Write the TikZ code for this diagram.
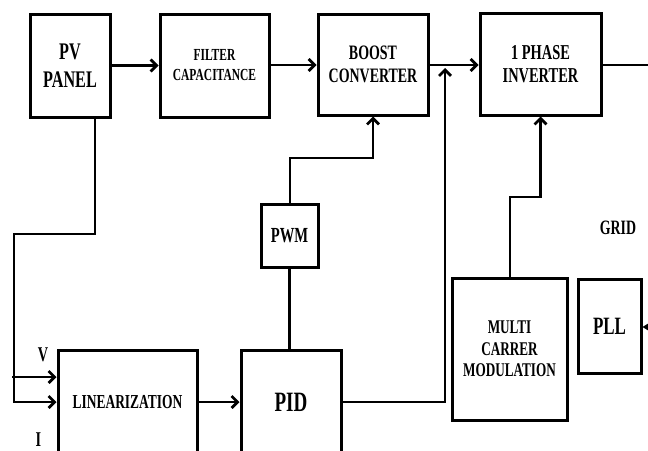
\documentclass[tikz,border=0pt]{standalone}
\usepackage{fontspec}
\setmainfont{Liberation Serif}[FakeStretch=0.68]
\usetikzlibrary{arrows.meta}
\newcommand{\fs}[2]{\fontsize{#1}{#2}\selectfont\bfseries}
\begin{document}
\begin{tikzpicture}[x=1pt,y=-1pt,
  box/.style={draw, line width=3pt, align=center, inner sep=0pt},
  conn/.style={line width=2.8pt},
  arr/.style={conn, -{Straight Barb[length=6pt,width=12pt]}},
  farr/.style={conn, -{Stealth[length=9pt,width=11pt]}},
  lbl/.style={inner sep=0pt}]
\clip (0,0) rectangle (648,450);
\fill[white] (0,0) rectangle (648,450);
% blocks
\node[box, minimum width=80pt, minimum height=103pt, font={\fs{23.8}{28}}] (pv) at (70,65.5) {PV\\PANEL};
\node[box, minimum width=109pt, minimum height=103pt, font={\fs{16.9}{20}}] (filt) at (214.5,65.5) {FILTER\\CAPACITANCE};
\node[box, minimum width=110pt, minimum height=101pt, font={\fs{20.5}{23}}] (boost) at (373,64.5) {BOOST\\CONVERTER};
\node[box, minimum width=121pt, minimum height=102pt, font={\fs{21.2}{23}}] (inv) at (540.5,64) {1 PHASE\\INVERTER};
\node[box, minimum width=57pt, minimum height=63pt, font={\fs{21.5}{23}}] (pwm) at (289.5,235.5) {PWM};
\node[box, minimum width=139pt, minimum height=104pt, font={\fs{19.8}{22}}] (lin) at (127.5,402) {LINEARIZATION};
\node[box, minimum width=100pt, minimum height=104pt, font={\fs{28}{30}}] (pid) at (291,402) {PID};
\node[box, minimum width=115pt, minimum height=142pt, font={\fs{19.4}{21.3}}] (mcm) at (509.5,349) {MULTI\\CARRER\\MODULATION};
\node[box, minimum width=63pt, minimum height=94pt, font={\fs{24.9}{26}}] (pll) at (609.5,326) {PLL};
% labels
\node[lbl, font={\fs{21}{22}}] (vl) at (43,355) {V};
\node[lbl, font={\fs{21}{22}}] (il) at (38.5,440) {I};
\node[lbl, font={\fs{20.4}{22}}] (grid) at (618,228) {GRID};
% coordinates
\coordinate (pvdown) at (95,234);
\coordinate (left) at (14,234);
\coordinate (vstart) at (12,377);
\coordinate (pwmup) at (290,158);
\coordinate (pidr) at (445,402);
\coordinate (bus) at (445,68);
\coordinate (mcmup) at (510,197);
\coordinate (gridout) at (650,65);
\coordinate (gridin) at (650,327);
% connectors
\draw[arr] (pv.east) -- (filt.west);
\draw[arr] (filt.east |- 0,65) -- (boost.west |- 0,65);
\draw[arr] (boost.east |- 0,65) -- (inv.west |- 0,65);
\draw[conn] (inv.east |- 0,65) -- (gridout);
\draw[arr] (pv.south -| pvdown) -- (pvdown) -- (left) |- (lin.west);
\draw[arr] (vstart) -- (lin.west |- vstart);
\draw[arr] (lin.east) -- (pid.west);
\draw[conn, line width=2.2pt] (pwm.south) -- (pwm.south |- pid.north);
\draw[arr] (pwm.north -| pwmup) -- (pwmup) -| (boost.south);
\draw[arr] (pid.east) -- (pidr) -- (bus);
\draw[arr] (mcm.north -| mcmup) -- (mcmup) -| (inv.south);
\draw[farr] (gridin) -- (pll.east |- gridin);
\end{tikzpicture}
\end{document}
